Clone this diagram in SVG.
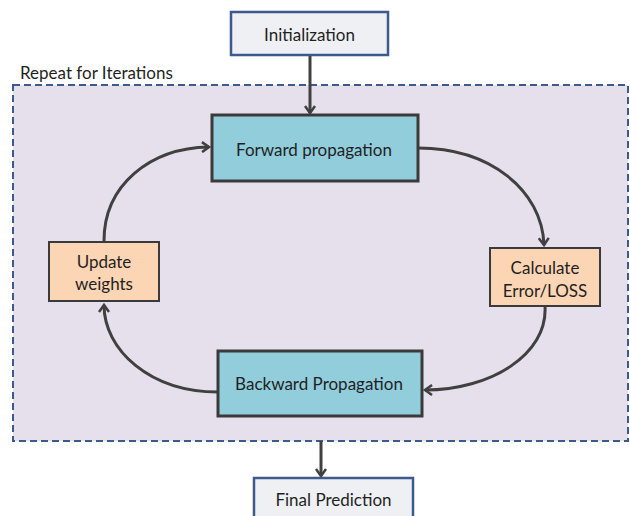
<svg xmlns="http://www.w3.org/2000/svg" width="630" height="516" viewBox="0 0 630 516">
<defs>
<marker id="arr" markerWidth="12" markerHeight="12" refX="9" refY="6" orient="auto" markerUnits="userSpaceOnUse">
<path d="M2,1 L9,6 L2,11" fill="none" stroke="#404040" stroke-width="2.5" stroke-linejoin="miter"/>
</marker>
<style>
text{font-family:Lato,"Open Sans","Liberation Sans",sans-serif;font-size:17px;fill:#1f1f1f;text-anchor:middle;dominant-baseline:central}
.gray{fill:#eff0f4;stroke:#3d5a8c;stroke-width:2.5}
.blue{fill:#92cddc;stroke:#3a3a3a;stroke-width:3}
.orange{fill:#fcd5b5;stroke:#3a3a3a;stroke-width:2}
.con{fill:none;stroke:#404040;stroke-width:3;marker-end:url(#arr)}
</style>
</defs>
<rect width="630" height="516" fill="#ffffff"/>
<g id="container">
<rect x="13" y="85" width="615" height="356" fill="#e5e0ec" stroke="#3d5a8c" stroke-width="2" stroke-dasharray="7,4"/>
<text x="20" y="72" style="text-anchor:start">Repeat for Iterations</text>
</g>
<g id="connectors">
<path class="con" d="M310,55 L310,113"/>
<path class="con" d="M418,148 C490,148 542,190 544,245"/>
<path class="con" d="M545,306 C548,355 490,390 425,390"/>
<path class="con" d="M218,392 C150,392 104,350 104,305"/>
<path class="con" d="M104,241 C104,185 150,148 209,147"/>
<path class="con" d="M321,441 L321,476"/>
</g>
<g id="initialization">
<rect class="gray" x="231" y="12" width="157" height="43"/>
<text x="309.5" y="34">Initialization</text>
</g>
<g id="forward">
<rect class="blue" x="212" y="115" width="206" height="66"/>
<text x="314" y="149">Forward propagation</text>
</g>
<g id="calculate">
<rect class="orange" x="490" y="248" width="110" height="58"/>
<text x="545" y="267">Calculate</text>
<text x="545" y="290">Error/LOSS</text>
</g>
<g id="backward">
<rect class="blue" x="218" y="351" width="204" height="65"/>
<text x="319" y="383">Backward Propagation</text>
</g>
<g id="update">
<rect class="orange" x="49" y="242" width="110" height="59"/>
<text x="104" y="261">Update</text>
<text x="104" y="283">weights</text>
</g>
<g id="final">
<rect class="gray" x="254" y="478" width="159" height="50"/>
<text x="333.5" y="499">Final Prediction</text>
</g>
</svg>
